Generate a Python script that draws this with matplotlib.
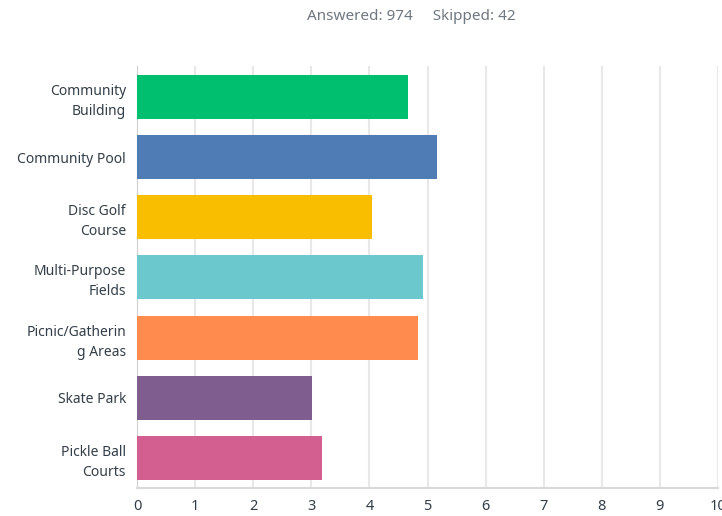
import matplotlib
matplotlib.use("Agg")
import matplotlib.pyplot as plt

labels = ["Community\nBuilding", "Community Pool", "Disc Golf\nCourse",
          "Multi-Purpose\nFields", "Picnic/Gatherin\ng Areas", "Skate Park",
          "Pickle Ball\nCourts"]
values = [4.66, 5.16, 4.04, 4.92, 4.84, 3.01, 3.18]
colors = ["#00bf6f", "#507cb6", "#f9be00", "#6bc8cd", "#ff8b4f", "#7f5e8f", "#d25f90"]
xticks = list(range(0, 11))

answered = 974
skipped = 42

plt.rcParams["font.family"] = ["Noto Sans", "DejaVu Sans"]
TEXT = "#333e48"

fig = plt.figure(figsize=(7.22, 5.16), dpi=100)
ax = fig.add_axes([137 / 722, 28 / 516, 581 / 722, 422 / 516])

ypos = list(range(len(labels)))
ax.barh(ypos, values, color=colors, height=0.73, zorder=3)

ax.set_xlim(0, 10)
ax.set_ylim(6.5, -0.515)
ax.set_xticks(xticks)
ax.set_yticks(ypos)
ax.set_yticklabels(labels, fontsize=10, color=TEXT, linespacing=1.45)
ax.tick_params(axis="x", labelsize=10.5, colors=TEXT, length=0, pad=8)
ax.tick_params(axis="y", length=0, pad=8)

ax.grid(axis="x", color="#e8e8e8", linewidth=1.5, zorder=0)
for s in ["top", "right"]:
    ax.spines[s].set_visible(False)
ax.spines["left"].set_color("#d0d0d0")
ax.spines["bottom"].set_color("#d9d9d9")
ax.spines["bottom"].set_linewidth(1.5)

fig.text(0.57, 0.968, f"Answered: {answered}     Skipped: {skipped}",
         ha="center", va="center", fontsize=11, color="#6f7881")

fig.savefig("out.png", dpi=100)
